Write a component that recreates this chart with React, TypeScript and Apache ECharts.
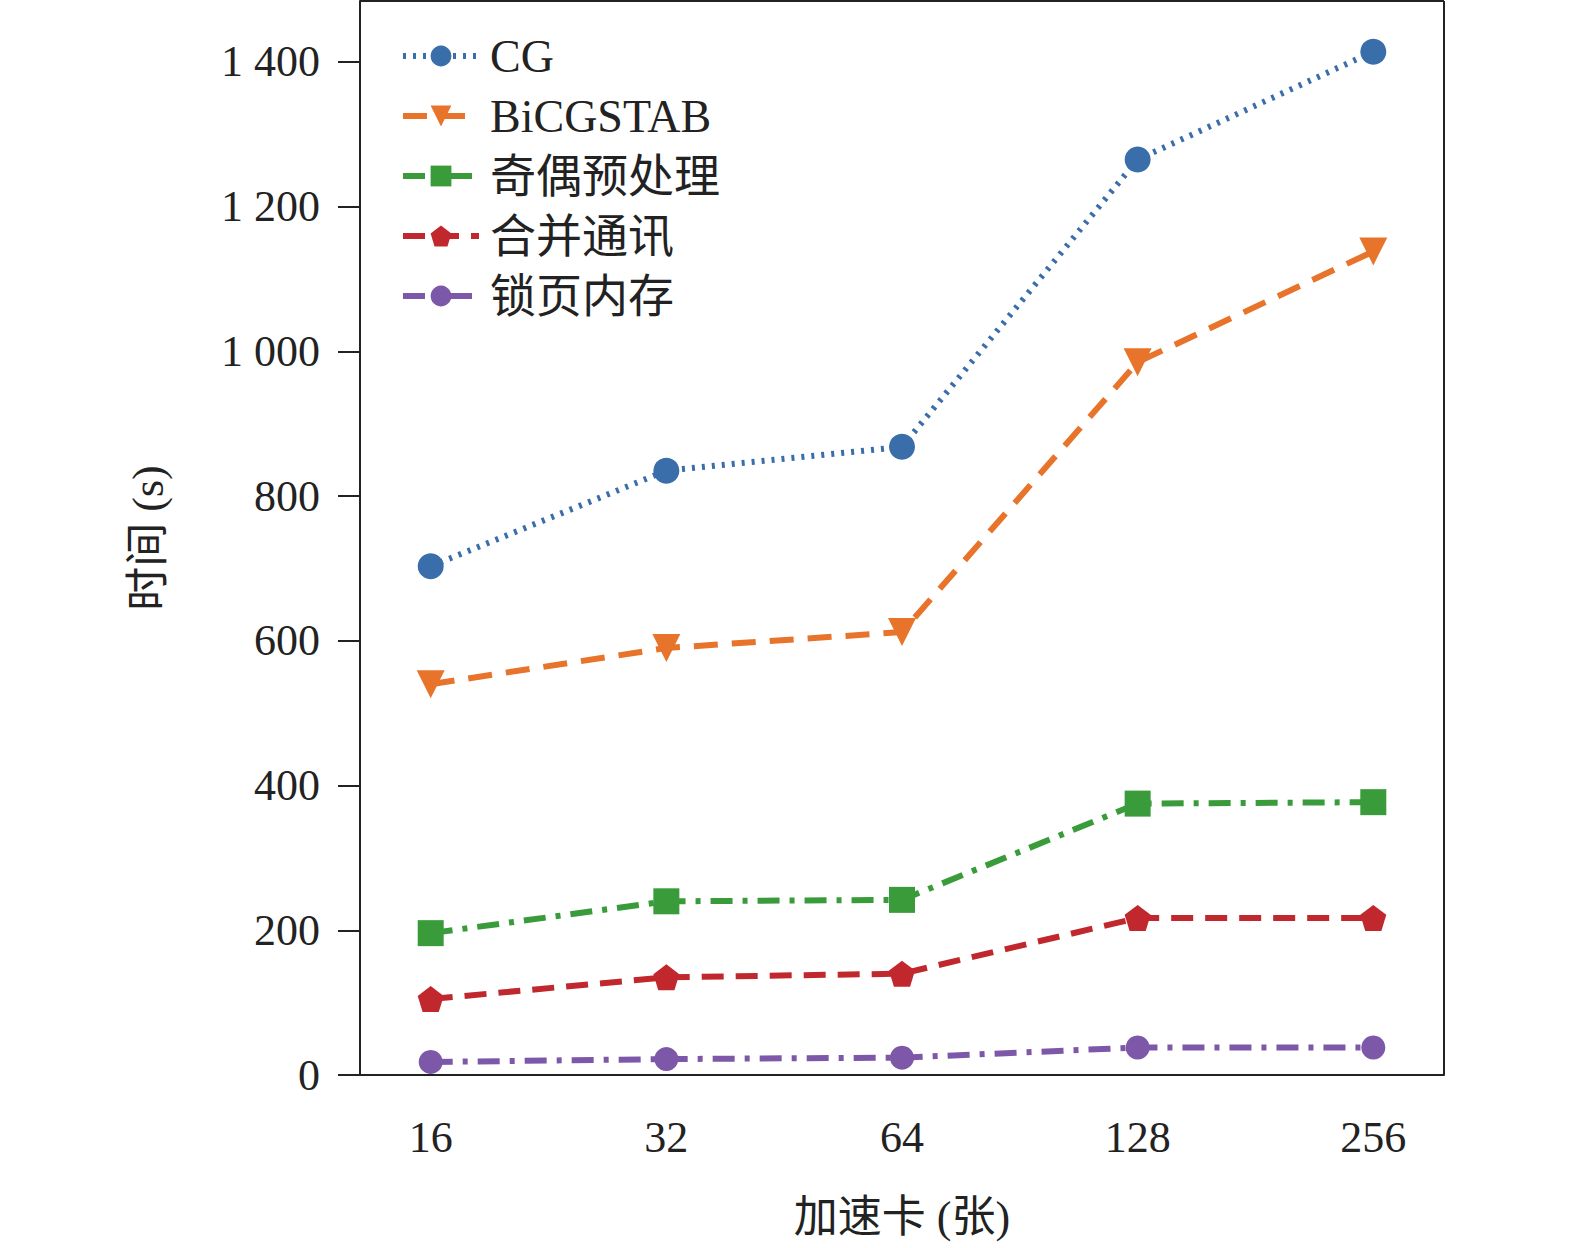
import React, { useEffect, useRef } from "react";
import * as echarts from "echarts";

const categories = ["16", "32", "64", "128", "256"];
const cg = [703, 835, 868, 1265, 1414];
const bicgstab = [540, 590, 612, 985, 1138];
const oddEven = [196, 240, 242, 375, 377];
const mergeComm = [105, 135, 140, 217, 217];
const pinnedMem = [18, 22, 24, 38, 38];

const pentagon = "path://M0,-10 L9.5,-3.1 L5.9,8.1 L-5.9,8.1 L-9.5,-3.1 Z";
const font = "'Liberation Serif', 'Times New Roman', 'Noto Sans CJK SC', serif";

export default function App() {
  const chartRef = useRef<HTMLDivElement>(null);

  useEffect(() => {
    if (!chartRef.current) return;
    const chart = echarts.init(chartRef.current, undefined, { renderer: "svg" });

    const mk = (name: string, values: number[], color: string, type: any, symbol: string, size: number) => ({
      name,
      type: "line",
      data: values.map((v, i) => [i, v]),
      symbol,
      symbolSize: size,
      itemStyle: { color },
      lineStyle: { color, width: 6, type },
    });

    chart.setOption({
      animation: false,
      textStyle: { fontFamily: font },
      grid: { left: 360, right: 131, top: 1, bottom: 173 },
      legend: {
        orient: "vertical",
        left: 395,
        top: 28,
        itemWidth: 76,
        itemHeight: 26,
        itemGap: 14,
        lineStyle: { width: 6 },
        textStyle: { fontSize: 46, lineHeight: 44, color: "#222", fontFamily: font, padding: [0, 0, 0, 6] },
      },
      xAxis: {
        type: "value",
        min: -0.3,
        max: 4.3,
        splitLine: { show: false },
        axisTick: { show: false },
        axisLine: { onZero: false, lineStyle: { color: "#222", width: 2 } },
        axisLabel: {
          fontSize: 44,
          color: "#222",
          margin: 40,
          customValues: [0, 1, 2, 3, 4],
          formatter: (v: number) => categories[Math.round(v)] ?? "",
        },
        name: "加速卡 (张)",
        nameLocation: "middle",
        nameGap: 120,
        nameTextStyle: { fontSize: 44, color: "#222" },
      },
      yAxis: {
        type: "value",
        min: 0,
        max: 1484,
        interval: 200,
        splitLine: { show: false },
        axisLine: { show: true, onZero: false, lineStyle: { color: "#222", width: 2 } },
        axisTick: { show: true, length: 22, lineStyle: { width: 2 } },
        axisLabel: {
          fontSize: 44,
          color: "#222",
          margin: 40,
          showMaxLabel: false,
          formatter: (v: number) => (v >= 1000 ? String(v).replace(/^(\d)(\d{3})$/, "$1 $2") : String(v)),
        },
        name: "时间 (s)",
        nameLocation: "middle",
        nameGap: 190,
        nameRotate: 90,
        nameTextStyle: { fontSize: 44, color: "#222" },
      },
      series: [
        mk("CG", cg, "#3a6eaa", [3, 7], "circle", 26),
        mk("BiCGSTAB", bicgstab, "#e8732b", [24, 14], "triangle", 28),
        mk("奇偶预处理", oddEven, "#3a9b3a", [22, 10, 5, 10], "rect", 26),
        mk("合并通讯", mergeComm, "#c0282e", [22, 12], pentagon, 26),
        mk("锁页内存", pinnedMem, "#7e58a8", [22, 10, 5, 10], "circle", 24),
      ].map((s, i) => (i === 1 ? { ...s, symbolRotate: 180 } : s)),
      graphic: [
        {
          type: "line",
          shape: { x1: 1444, y1: 1, x2: 1444, y2: 1075 },
          style: { stroke: "#222", lineWidth: 2 },
        },
        {
          type: "line",
          shape: { x1: 360, y1: 1, x2: 1444, y2: 1 },
          style: { stroke: "#222", lineWidth: 2 },
        },
      ],
    });

    return () => chart.dispose();
  }, []);

  return (
    <div
      ref={chartRef}
      style={{ position: "fixed", left: 0, top: 0, width: 1575, height: 1248, background: "#fff" }}
    />
  );
}
